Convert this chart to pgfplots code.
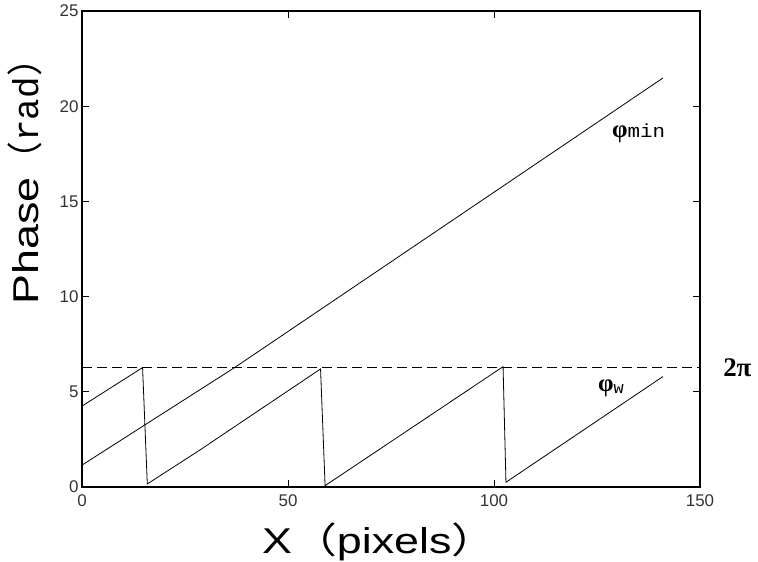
\documentclass[border=0pt]{standalone}
\usepackage{fontspec}
\setmainfont{Liberation Sans}
\newfontfamily\cjk{Noto Sans CJK SC}
\newfontfamily\serifb{Liberation Serif}
\newfontfamily\mono{Liberation Mono}
\usepackage{graphicx}
\usepackage{pgfplots}
\pgfplotsset{compat=1.18}
\newcommand{\wide}[1]{\scalebox{1.25}[1]{#1}}

\begin{document}
\begin{tikzpicture}[x=1bp,y=1bp]
\useasboundingbox (0,0) rectangle (758,562);
\begin{axis}[
    at={(82bp,75bp)}, anchor=south west,
    width=618bp, height=476bp, scale only axis,
    xmin=0, xmax=150, ymin=0, ymax=25,
    xtick={0,50,100,150},
    ytick={0,5,10,15,20,25},
    axis line style={line width=1.1bp},
    tick style={black, line width=0.9bp},
    major tick length=7bp,
    /pgf/number format/assume math mode=true,
    ticklabel style={font=\fontsize{17}{20}\selectfont, text=black!80},
    xticklabel style={yshift=-4bp},
    xlabel={\wide{X{\cjk （}pixels{\cjk ）}}},
    ylabel={\wide{Phase}{\cjk （}{\mono rad}{\cjk ）}},
    label style={font=\fontsize{36}{40}\selectfont},
    xlabel style={at={(rel axis cs:0.481,-0.139)}, anchor=base},
    ylabel style={at={(rel axis cs:-0.0712,0.66)}, anchor=base},
    clip=false,
]
% unwrapped phase
\addplot[black, line width=0.8bp] coordinates {(0,1.15) (37.1,6.28) (141,21.48)};
% wrapped phase
\addplot[black, line width=0.8bp] coordinates {
    (0,4.25) (14.7,6.27) (15.85,0.16)
    (28.6,1.94) (57.9,6.2) (59.0,0.07)
    (102.2,6.32) (102.9,0.25) (141,5.8)};
% 2 pi level
\addplot[black, line width=1.1bp, dash pattern=on 10bp off 5bp] coordinates {(0,6.2832) (150,6.2832)};
\node[anchor=west, inner sep=0] at (axis cs:155.6,6.2832) {\serifb\bfseries\fontsize{27}{29}\selectfont 2π};
\node[anchor=base west, inner sep=0] at (axis cs:128.6,18.33) {{\serifb\bfseries\fontsize{25}{27}\selectfont φ}{\mono\fontsize{19}{21}\selectfont\scalebox{1.1}[1]{min}}};
\node[anchor=base west, inner sep=0] at (axis cs:125.2,5.04) {{\serifb\bfseries\fontsize{25}{27}\selectfont φ}{\mono\fontsize{17}{19}\selectfont\raisebox{-2bp}{w}}};
\end{axis}
\end{tikzpicture}
\end{document}
